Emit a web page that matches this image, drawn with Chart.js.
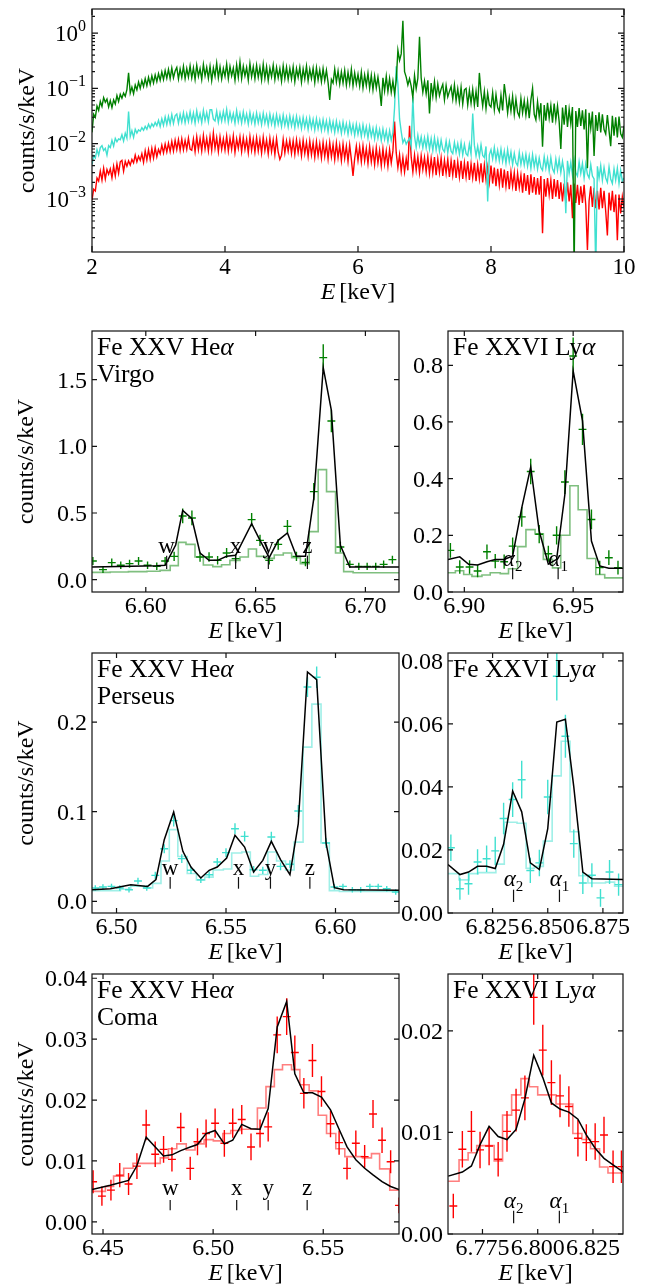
<!DOCTYPE html>
<html>
<head>
<meta charset="utf-8">
<script src="https://cdn.jsdelivr.net/npm/chart.js@4.4.1/dist/chart.umd.min.js"></script>
<style>
  html, body { margin: 0; padding: 0; background: #fff; }
  #fig { position: relative; width: 649px; height: 1286px; overflow: hidden; }
  #fig canvas { position: absolute; left: 0; top: 0; }
</style>
</head>
<body>
<div id="fig"></div>
<script>
const SERIF = '"Liberation Serif", "DejaVu Serif", serif';
const FIG_W = 649, FIG_H = 1286;

// ---- broadband spectra, 2-10 keV, 0.025 keV channels ----
const specStart = 2.0;
const specStep = 0.025;
const virgoSpec = [
  0.016,0.034,0.03,0.048,0.04,0.058,0.047,0.068,0.056,0.064,0.046,0.06,0.045,0.062,0.052,0.074,0.058,0.078,0.066,0.082,
  0.072,0.095,0.19,0.082,0.105,0.08,0.115,0.094,0.13,0.1,0.138,0.108,0.15,0.112,0.158,0.118,0.168,0.125,0.175,0.132,
  0.185,0.14,0.198,0.145,0.21,0.152,0.22,0.15,0.232,0.155,0.205,0.238,0.148,0.225,0.158,0.25,0.15,0.228,0.16,0.255,
  0.155,0.235,0.145,0.262,0.165,0.228,0.145,0.27,0.168,0.24,0.152,0.25,0.138,0.235,0.165,0.285,0.155,0.245,0.148,0.23,
  0.165,0.275,0.15,0.248,0.168,0.232,0.14,0.265,0.158,0.3,0.15,0.25,0.168,0.238,0.142,0.28,0.162,0.245,0.15,0.26,
  0.158,0.24,0.142,0.272,0.152,0.245,0.14,0.232,0.162,0.262,0.145,0.238,0.155,0.228,0.135,0.255,0.15,0.24,0.145,0.23,
  0.148,0.245,0.132,0.228,0.158,0.24,0.13,0.225,0.148,0.252,0.138,0.222,0.15,0.232,0.128,0.235,0.142,0.215,0.132,0.228,
  0.138,0.212,0.128,0.062,0.145,0.125,0.222,0.13,0.205,0.12,0.198,0.125,0.21,0.115,0.195,0.122,0.22,0.112,0.19,0.12,
  0.18,0.11,0.195,0.102,0.175,0.112,0.188,0.1,0.172,0.094,0.168,0.102,0.16,0.096,0.048,0.155,0.09,0.165,0.088,0.15,
  0.085,0.135,0.08,0.14,0.49,0.32,0.42,1.67,0.2,0.16,0.115,0.15,0.11,0.068,0.17,0.098,0.152,0.86,0.155,0.085,
  0.135,0.08,0.14,0.035,0.125,0.072,0.132,0.068,0.12,0.074,0.098,0.118,0.062,0.112,0.07,0.088,0.108,0.064,0.115,0.06,
  0.098,0.056,0.105,0.052,0.094,0.1,0.05,0.092,0.054,0.096,0.05,0.088,0.046,0.19,0.084,0.048,0.088,0.043,0.082,0.05,
  0.046,0.084,0.041,0.077,0.045,0.038,0.075,0.04,0.12,0.07,0.036,0.066,0.039,0.072,0.034,0.064,0.037,0.031,0.066,0.036,
  0.06,0.033,0.058,0.029,0.062,0.1,0.034,0.027,0.057,0.031,0.054,0.0088,0.05,0.026,0.055,0.029,0.049,0.024,0.053,0.027,
  0.048,0.025,0.008,0.045,0.022,0.05,0.02,0.042,0.023,0.046,0.00005,0.039,0.02,0.044,0.021,0.04,0.018,0.042,0.0036,0.036,
  0.019,0.038,0.006,0.033,0.017,0.037,0.016,0.034,0.018,0.015,0.033,0.017,0.009,0.032,0.014,0.03,0.013,0.031,0.015,0.013,
  0.021
];
const perseusSpec = [
  0.0042,0.006,0.0055,0.0078,0.0062,0.0085,0.0092,0.0075,0.0082,0.0062,0.0092,0.0085,0.0115,0.009,0.0125,0.0108,0.0122,0.0118,0.0145,0.0112,
  0.0155,0.0125,0.038,0.0135,0.0172,0.013,0.0182,0.0155,0.0178,0.0168,0.0195,0.0175,0.0205,0.0182,0.0225,0.0192,0.0228,0.0205,0.0242,0.0212,
  0.0265,0.0205,0.0282,0.0215,0.0305,0.0222,0.0312,0.0228,0.0335,0.0232,0.032,0.0345,0.0235,0.034,0.0245,0.0362,0.024,0.0348,0.0252,0.0375,
  0.025,0.0358,0.0235,0.0392,0.0258,0.0348,0.024,0.04,0.0262,0.0365,0.0248,0.0412,0.041,0.0278,0.0258,0.0385,0.0245,0.036,0.0255,0.038,
  0.026,0.0415,0.0245,0.0368,0.0258,0.035,0.0235,0.0395,0.025,0.0355,0.0238,0.0375,0.0248,0.0345,0.0228,0.0365,0.0242,0.0338,0.0225,0.0355,
  0.0238,0.0335,0.0222,0.0355,0.0234,0.0328,0.0215,0.0342,0.0228,0.032,0.021,0.0335,0.0222,0.0312,0.0205,0.0328,0.0215,0.0302,0.0202,0.0318,
  0.021,0.0302,0.0195,0.031,0.0205,0.029,0.0188,0.0298,0.0198,0.0284,0.0182,0.029,0.0192,0.0276,0.0178,0.0282,0.0186,0.0265,0.0174,0.0272,
  0.018,0.0258,0.0165,0.0265,0.0174,0.0248,0.016,0.0254,0.0168,0.0238,0.0155,0.0246,0.0162,0.023,0.0148,0.0235,0.0156,0.022,0.0142,0.0224,
  0.0148,0.0212,0.0136,0.0218,0.0142,0.0202,0.0128,0.0206,0.0134,0.019,0.0122,0.0195,0.0126,0.018,0.0115,0.0184,0.012,0.017,0.0108,0.0172,
  0.0115,0.016,0.045,0.25,0.12,0.028,0.0165,0.0104,0.0122,0.0098,0.0112,0.0125,0.009,0.07,0.0135,0.0086,0.0142,0.0092,0.0132,0.0084,
  0.0128,0.0084,0.0135,0.008,0.0124,0.0075,0.0128,0.0077,0.0118,0.0073,0.0116,0.0079,0.0071,0.0112,0.0069,0.0108,0.0073,0.0066,0.0105,0.007,
  0.01,0.0065,0.0105,0.0063,0.0097,0.0066,0.0061,0.0098,0.0064,0.035,0.0094,0.006,0.009,0.0058,0.0096,0.0061,0.0056,0.0089,0.0009,0.0063,
  0.0078,0.0053,0.0085,0.0051,0.0076,0.0049,0.008,0.0048,0.0073,0.0044,0.0078,0.0047,0.0071,0.0042,0.0067,0.0045,0.004,0.0069,0.0042,0.0063,
  0.0041,0.0064,0.0039,0.006,0.0036,0.0063,0.0038,0.0057,0.0035,0.0055,0.0037,0.0033,0.0058,0.0036,0.0054,0.0032,0.0056,0.0035,0.003,0.0053,
  0.0033,0.0052,0.003,0.0048,0.0031,0.00055,0.0049,0.0029,0.0046,0.0027,0.005,0.003,0.0026,0.0047,0.0029,0.0044,0.0024,0.0043,0.0028,0.0024,
  0.0042,0.0026,0.0023,0.00005,0.0039,0.0024,0.004,0.0022,0.0037,0.0024,0.002,0.0038,0.0023,0.0019,0.0035,0.0022,0.0036,0.0019,0.0033,0.0021,
  0.0024
];
const comaSpec = [
  0.00095,0.0015,0.0014,0.0024,0.0021,0.0032,0.0022,0.0036,0.0023,0.0034,0.0028,0.0035,0.0024,0.0039,0.0026,0.0043,0.0029,0.0047,0.005,0.0032,
  0.0048,0.0039,0.0049,0.0041,0.0052,0.0045,0.0062,0.0047,0.0059,0.005,0.0066,0.0046,0.0074,0.0051,0.0078,0.0052,0.0082,0.0055,0.0085,0.0058,
  0.0079,0.0066,0.0094,0.0068,0.0098,0.0071,0.0102,0.0072,0.011,0.0074,0.0115,0.0078,0.0118,0.0076,0.0122,0.0078,0.0115,0.0079,0.0126,0.008,
  0.0076,0.0121,0.0072,0.0133,0.0078,0.0124,0.0074,0.014,0.008,0.0125,0.0074,0.0134,0.0076,0.0155,0.0082,0.0128,0.0072,0.0132,0.0079,0.0122,
  0.0077,0.0136,0.0074,0.0125,0.0079,0.0138,0.007,0.0122,0.0082,0.0132,0.0072,0.0128,0.0078,0.012,0.0069,0.0134,0.0076,0.0122,0.0071,0.0128,
  0.0074,0.012,0.0068,0.013,0.0075,0.0116,0.0066,0.0125,0.0072,0.0117,0.0064,0.0123,0.007,0.0052,0.0062,0.0119,0.0068,0.0112,0.0073,0.0114,
  0.0067,0.0113,0.0064,0.0117,0.0069,0.0109,0.0061,0.0115,0.0066,0.0106,0.0059,0.0111,0.0063,0.0104,0.0057,0.0108,0.0061,0.01,0.0055,0.0105,
  0.0059,0.0099,0.0053,0.0104,0.0058,0.0096,0.0052,0.0102,0.0056,0.0093,0.005,0.0098,0.0054,0.009,0.0048,0.0095,0.0052,0.0026,0.0054,0.009,
  0.005,0.0088,0.0047,0.0091,0.0049,0.0082,0.0044,0.0088,0.0047,0.0078,0.0042,0.0084,0.0045,0.0076,0.004,0.0081,0.0043,0.0074,0.0039,0.0078,
  0.0045,0.0074,0.025,0.0068,0.0037,0.0063,0.0032,0.0057,0.0031,0.0054,0.0033,0.021,0.0057,0.0031,0.0062,0.0033,0.0058,0.003,0.006,0.0034,
  0.0056,0.0031,0.0058,0.0029,0.0054,0.003,0.0057,0.0027,0.0053,0.003,0.0055,0.0026,0.005,0.0029,0.0052,0.0025,0.0049,0.0027,0.0051,0.0024,
  0.0047,0.0025,0.0049,0.0023,0.0045,0.0025,0.0048,0.0022,0.0043,0.0024,0.0045,0.0021,0.0042,0.0023,0.0044,0.002,0.0041,0.0022,0.0038,0.002,
  0.004,0.0019,0.0037,0.0017,0.0035,0.0018,0.0036,0.0016,0.0034,0.0017,0.0032,0.0015,0.0031,0.0017,0.003,0.0014,0.0029,0.0016,0.0027,0.0013,
  0.0029,0.0014,0.0027,0.0012,0.0028,0.0013,0.0025,0.0012,0.0024,0.0012,0.0026,0.00024,0.0023,0.0011,0.0024,0.0012,0.0022,0.001,0.0023,0.0011,
  0.0022,0.001,0.002,0.0009,0.0019,0.00085,0.002,0.0009,0.0018,0.00045,0.0019,0.00085,0.0018,0.00078,0.0017,0.00085,0.0018,0.00078,0.00012,0.00092,
  0.0017,0.00072,0.0016,0.00068,0.0014,0.00065,0.0016,0.00068,0.0014,0.0006,0.00022,0.0013,0.00062,0.0014,0.00058,0.0012,0.00018,0.0012,0.00055,0.0011,
  0.0007
];
const specXTicks = [2, 4, 6, 8, 10];
const specXLabels = ['2', '4', '6', '8', '10'];
const specYTicks = [1, 0.1, 0.01, 0.001];
const specYExp = ['0', '\u22121', '\u22122', '\u22123'];

// ---- Virgo, Fe XXV He-alpha ----
const virgoHeE = [6.5759,6.5805,6.5845,6.5886,6.5926,6.5967,6.6008,6.6050,6.6088,6.6129,6.6168,6.6210,6.6247,6.6288,6.6327,6.6368,6.6409,6.6482,6.6520,6.6562,6.6603,6.6645,6.6686,6.6727,6.6765,6.6808,6.6845,6.6886,6.6929,6.6970,6.7008,6.7047,6.7083,6.7123];
const virgoHeC = [0.14,0.075,0.128,0.108,0.12,0.14,0.108,0.10,0.14,0.175,0.478,0.463,0.17,0.17,0.145,0.2,0.158,0.45,0.295,0.145,0.265,0.40,0.175,0.13,0.66,1.665,1.19,0.245,0.115,0.10,0.10,0.10,0.115,0.15];
const virgoHeErr = [0.03,0.025,0.03,0.028,0.03,0.03,0.028,0.028,0.03,0.035,0.055,0.055,0.035,0.035,0.032,0.038,0.034,0.05,0.042,0.032,0.04,0.048,0.035,0.03,0.065,0.1,0.085,0.04,0.028,0.027,0.027,0.027,0.028,0.03];
const virgoHeModelE = [6.5755,6.6050,6.6088,6.6136,6.6168,6.6210,6.6247,6.6288,6.6327,6.6368,6.6409,6.6482,6.6520,6.6562,6.6603,6.6645,6.6686,6.6727,6.6765,6.6808,6.6845,6.6886,6.6929,6.7153];
const virgoHeModelC = [0.095,0.105,0.108,0.26,0.52,0.457,0.2,0.145,0.145,0.175,0.183,0.42,0.295,0.165,0.295,0.35,0.175,0.175,0.61,1.59,1.27,0.258,0.095,0.095];
const virgoHeBinE = [6.5755,6.5838,6.5921,6.6005,6.6065,6.6111,6.6148,6.6183,6.6224,6.6262,6.6305,6.6345,6.6383,6.6429,6.6467,6.6504,6.6542,6.6585,6.6626,6.6664,6.6704,6.6744,6.6785,6.6823,6.6864,6.6901,6.6944,6.7153];
const virgoHeBinC = [0.055,0.057,0.06,0.063,0.07,0.105,0.28,0.265,0.17,0.11,0.098,0.112,0.145,0.17,0.23,0.175,0.16,0.185,0.2,0.165,0.12,0.36,0.825,0.66,0.2,0.06,0.052];
const virgoHeLineE = [6.6095, 6.6409, 6.6558, 6.6736];

// ---- Virgo, Fe XXVI Ly-alpha ----
const virgoLyE = [6.8936,6.8979,6.9024,6.9061,6.9104,6.9142,6.9183,6.9222,6.9264,6.9305,6.9344,6.9386,6.9424,6.9462,6.9500,6.9543,6.9584,6.9622,6.9664,6.9706];
const virgoLyC = [0.147,0.088,0.088,0.074,0.142,0.109,0.107,0.162,0.265,0.425,0.204,0.135,0.2,0.388,0.833,0.574,0.256,0.086,0.121,0.086];
const virgoLyErr = [0.026,0.024,0.024,0.022,0.026,0.025,0.025,0.03,0.035,0.045,0.032,0.028,0.032,0.042,0.065,0.055,0.035,0.024,0.026,0.024];
const virgoLyModelE = [6.8925,6.8979,6.9020,6.9061,6.9104,6.9142,6.9183,6.9222,6.9264,6.9305,6.9344,6.9386,6.9424,6.9462,6.9500,6.9543,6.9584,6.9622,6.9664,6.9729];
const virgoLyModelC = [0.115,0.124,0.098,0.095,0.107,0.115,0.115,0.127,0.298,0.441,0.215,0.098,0.115,0.345,0.78,0.604,0.18,0.092,0.084,0.084];
const virgoLyBinE = [6.8925,6.8959,6.8997,6.9035,6.9081,6.9119,6.9165,6.9203,6.9245,6.9283,6.9325,6.9363,6.9405,6.9443,6.9485,6.9523,6.9564,6.9604,6.9645,6.9729];
const virgoLyBinC = [0.068,0.075,0.062,0.055,0.06,0.068,0.065,0.082,0.16,0.22,0.205,0.115,0.085,0.2,0.375,0.29,0.118,0.062,0.05];
const virgoLyLineE = [6.9222, 6.9431];

// ---- Perseus, Fe XXV He-alpha ----
const perseusHeE = [6.4903,6.4938,6.4977,6.5015,6.5057,6.5098,6.5138,6.5177,6.5218,6.5261,6.5298,6.5340,6.5385,6.5423,6.5460,6.5500,6.5541,6.5585,6.5626,6.5668,6.5707,6.5749,6.5792,6.5830,6.5872,6.5914,6.5957,6.5995,6.6034,6.6077,6.6115,6.6157,6.6195,6.6234,6.6275];
const perseusHeC = [0.0149,0.016,0.0167,0.0149,0.013,0.0227,0.0149,0.029,0.0587,0.09,0.0476,0.0346,0.024,0.0297,0.0439,0.0543,0.081,0.0725,0.0353,0.0346,0.0717,0.039,0.0413,0.1007,0.239,0.25,0.065,0.016,0.0167,0.013,0.013,0.0167,0.0167,0.0141,0.0104];
const perseusHeErr = [0.003,0.003,0.003,0.003,0.003,0.0035,0.003,0.004,0.005,0.0065,0.0048,0.004,0.0035,0.004,0.0045,0.005,0.006,0.0058,0.004,0.004,0.0058,0.0042,0.0045,0.0068,0.011,0.012,0.0055,0.003,0.003,0.003,0.003,0.003,0.003,0.003,0.003];
const perseusHeModelE = [6.4888,6.4972,6.5065,6.5142,6.5180,6.5218,6.5261,6.5303,6.5340,6.5385,6.5423,6.5460,6.5503,6.5541,6.5585,6.5626,6.5668,6.5707,6.5749,6.5792,6.5830,6.5872,6.5914,6.5957,6.5995,6.6037,6.6307];
const perseusHeModelC = [0.013,0.0141,0.0186,0.0167,0.0242,0.0688,0.0996,0.0558,0.0383,0.026,0.0346,0.0383,0.0483,0.0736,0.0606,0.0327,0.0457,0.0669,0.0465,0.0297,0.0866,0.2558,0.2472,0.065,0.0152,0.013,0.0123];
const perseusHeBinE = [6.4888,6.5018,6.5065,6.5126,6.5165,6.5203,6.5241,6.5280,6.5323,6.5365,6.5403,6.5441,6.5488,6.5526,6.5572,6.5611,6.5649,6.5691,6.5731,6.5772,6.5811,6.5852,6.5892,6.5934,6.5972,6.6018,6.6307];
const perseusHeBinC = [0.012,0.0135,0.017,0.015,0.02,0.045,0.08,0.05,0.031,0.024,0.027,0.035,0.036,0.054,0.055,0.028,0.03,0.055,0.045,0.035,0.066,0.172,0.22,0.065,0.012,0.011];
const perseusHeLineE = [6.5245, 6.5557, 6.5703, 6.5883];

// ---- Perseus, Fe XXVI Ly-alpha ----
const perseusLyE = [6.8061,6.8102,6.8141,6.8182,6.8223,6.8262,6.8300,6.8341,6.8382,6.8421,6.8462,6.8500,6.8541,6.8580,6.8618,6.8659,6.8700,6.8739,6.8780,6.8821];
const perseusLyC = [0.0207,0.0077,0.0093,0.0162,0.0172,0.0197,0.03,0.036,0.0423,0.0135,0.0159,0.0368,0.0751,0.0561,0.022,0.0095,0.012,0.0048,0.013,0.009];
const perseusLyErr = [0.0042,0.0035,0.0035,0.004,0.0042,0.0045,0.005,0.0055,0.006,0.004,0.0042,0.0055,0.0077,0.0068,0.0045,0.0035,0.0038,0.0028,0.0038,0.0035];
const perseusLyModelE = [6.8048,6.8102,6.8141,6.8182,6.8223,6.8262,6.8300,6.8341,6.8382,6.8421,6.8462,6.8500,6.8541,6.8580,6.8618,6.8659,6.8700,6.8848];
const perseusLyModelC = [0.0154,0.0122,0.013,0.0148,0.0148,0.0141,0.0218,0.0387,0.0321,0.0159,0.0138,0.0268,0.0606,0.0615,0.04,0.013,0.0109,0.0106];
const perseusLyBinE = [6.8048,6.8098,6.8144,6.8185,6.8265,6.8303,6.8361,6.8402,6.8439,6.8480,6.8520,6.8561,6.8601,6.8641,6.8682,6.8762,6.8803,6.8848];
const perseusLyBinC = [0.0125,0.0105,0.0125,0.0128,0.0155,0.0288,0.0285,0.0142,0.0148,0.0228,0.0435,0.0545,0.0258,0.0118,0.0095,0.0098,0.0085];
const perseusLyLineE = [6.8345, 6.8553];

// ---- Coma, Fe XXV He-alpha ----
const comaHeE = [6.4455,6.4495,6.4536,6.4576,6.4616,6.4654,6.4696,6.4737,6.4775,6.4813,6.4853,6.4896,6.4929,6.4968,6.5009,6.5051,6.5089,6.5130,6.5172,6.5213,6.5250,6.5291,6.5334,6.5371,6.5412,6.5451,6.5492,6.5533,6.5572,6.5608,6.5648,6.5688,6.5726,6.5767,6.5806,6.5844];
const comaHeC = [0.00658,0.00422,0.0052,0.00767,0.0062,0.00915,0.0159,0.0111,0.0119,0.01025,0.0155,0.00877,0.01315,0.0145,0.0162,0.0129,0.0162,0.0168,0.0123,0.0145,0.0156,0.0307,0.0337,0.0278,0.0211,0.0265,0.0214,0.0161,0.013,0.00877,0.0129,0.0107,0.0177,0.0134,0.00986,0.0027];
const comaHeErr = [0.0019,0.0016,0.0017,0.002,0.0018,0.0021,0.0025,0.0021,0.0022,0.002,0.0024,0.0019,0.0022,0.0023,0.0024,0.0022,0.0024,0.0024,0.0022,0.0023,0.0024,0.003,0.003,0.0028,0.0025,0.0027,0.0025,0.0022,0.002,0.0018,0.0021,0.0019,0.0023,0.0021,0.0019,0.0013];
const comaHeModelE = [6.4450,6.4533,6.4616,6.4654,6.4696,6.4775,6.4813,6.4853,6.4896,6.4929,6.4968,6.5009,6.5051,6.5089,6.5130,6.5172,6.5213,6.5250,6.5291,6.5334,6.5371,6.5412,6.5451,6.5492,6.5533,6.5572,6.5608,6.5648,6.5688,6.5726,6.5767,6.5806,6.5844];
const comaHeModelC = [0.0053,0.006,0.0068,0.0092,0.0139,0.0108,0.011,0.0117,0.0123,0.0127,0.0145,0.015,0.0128,0.0134,0.016,0.0153,0.0152,0.0186,0.032,0.0362,0.0243,0.0212,0.0212,0.0205,0.0184,0.0152,0.0123,0.0102,0.0088,0.0077,0.0066,0.0058,0.0053];
const comaHeBinE = [6.4450,6.4511,6.4548,6.4594,6.4636,6.4760,6.4797,6.4835,6.4878,6.4918,6.4959,6.5001,6.5044,6.5080,6.5122,6.5201,6.5240,6.5278,6.5315,6.5356,6.5394,6.5436,6.5477,6.5515,6.5557,6.5598,6.5678,6.5719,6.5756,6.5802,6.5844];
const comaHeBinC = [0.005,0.0058,0.0075,0.0088,0.0096,0.0105,0.012,0.0128,0.0118,0.0128,0.0135,0.0133,0.0145,0.015,0.0152,0.0187,0.0222,0.025,0.0258,0.025,0.0225,0.0215,0.0175,0.0145,0.012,0.0107,0.0105,0.0112,0.0087,0.0052];
const comaHeLineE = [6.4805, 6.5107, 6.5250, 6.5427];

// ---- Coma, Fe XXVI Ly-alpha ----
const comaLyE = [6.7618,6.7659,6.7700,6.7739,6.7780,6.7821,6.7861,6.7902,6.7942,6.7982,6.8023,6.8062,6.8101,6.8141,6.8182,6.8220,6.8260,6.8300,6.8341,6.8379];
const comaLyC = [0.00276,0.00834,0.0101,0.00828,0.00867,0.00736,0.0101,0.0122,0.0134,0.0233,0.0181,0.0149,0.0136,0.01255,0.00943,0.009,0.0091,0.00975,0.00663,0.00663];
const comaLyErr = [0.0012,0.0018,0.002,0.0018,0.0019,0.0017,0.002,0.0021,0.0022,0.0027,0.0025,0.0022,0.0021,0.002,0.0018,0.0018,0.0018,0.0018,0.0016,0.0016];
const comaLyModelE = [6.7595,6.7659,6.7700,6.7739,6.7780,6.7821,6.7861,6.7902,6.7942,6.7982,6.8023,6.8062,6.8101,6.8141,6.8182,6.8220,6.8260,6.8300,6.8341,6.8394];
const comaLyModelC = [0.0057,0.0061,0.0067,0.0088,0.0106,0.0096,0.0093,0.0103,0.0133,0.0176,0.0154,0.0129,0.0123,0.012,0.0113,0.00975,0.00844,0.00745,0.0068,0.006];
const comaLyBinE = [6.7595,6.7644,6.7685,6.7724,6.7803,6.7841,6.7882,6.7924,6.7962,6.8000,6.8083,6.8159,6.8200,6.8239,6.8280,6.8318,6.8394];
const comaLyBinC = [0.0052,0.0073,0.008,0.0087,0.0072,0.0117,0.0137,0.0153,0.0145,0.0137,0.0128,0.0099,0.0093,0.0084,0.0066,0.006];
const comaLyLineE = [6.7891, 6.8098];

const heLineNames = ['w', 'x', 'y', 'z'];
const lyLineSubs = ['2', '1'];

// colours
const GREEN = '#008000', TURQ = '#40e0d0', RED = '#ff0000';
const GREEN_LT = 'rgba(0,128,0,0.5)', TURQ_LT = 'rgba(64,224,208,0.5)', RED_LT = 'rgba(255,0,0,0.5)';

// ---------- helpers ----------
function pts(xs, ys) { return xs.map((x, i) => ({ x: x, y: ys[i] })); }

// bin edges -> points for a 'before' stepped line (last edge closes the last bin)
function binPts(edges, vals) {
  return edges.map((e, i) => ({ x: e, y: vals[Math.min(i, vals.length - 1)] }));
}

// error crosses as broken line segments (null breaks the path)
function crossPts(es, cs, errs, halfBin) {
  const out = [];
  es.forEach((e, i) => {
    const c = cs[i], d = errs[i];
    out.push({ x: e - halfBin, y: c }, { x: e + halfBin, y: c }, { x: e, y: null },
             { x: e, y: c - d }, { x: e, y: c + d }, { x: e, y: null });
  });
  return out;
}

function fontOf(p) { return (p.it ? 'italic ' : '') + p.size + 'px ' + SERIF; }

function drawRich(ctx, parts, x, y, align) {
  let total = 0;
  parts.forEach(p => { ctx.font = fontOf(p); p.w = ctx.measureText(p.t).width + (p.gap || 0); total += p.w; });
  let cx = align === 'center' ? x - total / 2 : (align === 'right' ? x - total : x);
  ctx.textAlign = 'left';
  ctx.textBaseline = 'alphabetic';
  parts.forEach(p => {
    ctx.font = fontOf(p);
    ctx.fillText(p.t, cx + (p.gap || 0), y + (p.dy || 0));
    cx += p.w;
  });
}

// frame, inward ticks, tick labels, axis titles and annotations
function decorPlugin(cfg) {
  return {
    id: 'decor',
    afterDatasetsDraw(chart) {
      const ctx = chart.ctx, a = chart.chartArea;
      const sx = chart.scales.x, sy = chart.scales.y;
      ctx.save();
      ctx.fillStyle = '#000';
      ctx.strokeStyle = '#111';

      // line identifications
      if (cfg.marks) {
        const m = cfg.marks;
        ctx.lineWidth = 1.2;
        m.energies.forEach((e, i) => {
          const px = sx.getPixelForValue(e);
          ctx.beginPath();
          ctx.moveTo(px, sy.getPixelForValue(m.tickTop));
          ctx.lineTo(px, sy.getPixelForValue(m.tickBottom));
          ctx.stroke();
          const parts = m.greek
            ? [{ t: '\u03b1', it: true, size: 23 }, { t: m.names[i], size: 15, dy: 5 }]
            : [{ t: m.names[i], size: 23 }];
          drawRich(ctx, parts, px, sy.getPixelForValue(m.textY), 'center');
        });
      }

      // frame
      ctx.lineWidth = 1.2;
      ctx.strokeRect(a.left, a.top, a.right - a.left, a.bottom - a.top);

      // ticks
      const maj = cfg.majorLen, mnr = 3;
      ctx.beginPath();
      cfg.xTicks.forEach(v => {
        const px = sx.getPixelForValue(v);
        ctx.moveTo(px, a.bottom); ctx.lineTo(px, a.bottom - maj);
        ctx.moveTo(px, a.top); ctx.lineTo(px, a.top + maj);
      });
      cfg.yTicks.forEach(v => {
        const py = sy.getPixelForValue(v);
        ctx.moveTo(a.left, py); ctx.lineTo(a.left + maj, py);
        ctx.moveTo(a.right, py); ctx.lineTo(a.right - maj, py);
      });
      (cfg.yMinor || []).forEach(v => {
        const py = sy.getPixelForValue(v);
        if (py < a.top || py > a.bottom) return;
        ctx.moveTo(a.left, py); ctx.lineTo(a.left + mnr, py);
        ctx.moveTo(a.right, py); ctx.lineTo(a.right - mnr, py);
      });
      ctx.stroke();

      // tick labels
      const fs = cfg.tickSize;
      ctx.font = fs + 'px ' + SERIF;
      ctx.textAlign = 'center';
      ctx.textBaseline = 'alphabetic';
      cfg.xTicks.forEach((v, i) => {
        ctx.fillText(cfg.xLabels[i], sx.getPixelForValue(v), a.bottom + cfg.xLabelGap);
      });
      cfg.yTicks.forEach((v, i) => {
        const py = sy.getPixelForValue(v) + fs * 0.33;
        if (cfg.yExp) {
          drawRich(ctx, [{ t: '10', size: fs }, { t: cfg.yExp[i], size: Math.round(fs * 0.7), dy: -fs * 0.42 }],
                   a.left - 6, py, 'right');
        } else {
          ctx.font = fs + 'px ' + SERIF;
          ctx.textAlign = 'right';
          ctx.fillText(cfg.yLabels[i], a.left - 5, py);
        }
      });

      // axis titles
      drawRich(ctx, [{ t: 'E', it: true, size: cfg.titleSize }, { t: '[keV]', size: cfg.titleSize, gap: 4 }],
               (a.left + a.right) / 2, a.bottom + cfg.xTitleGap, 'center');
      if (cfg.yTitleX) {
        ctx.save();
        ctx.translate(cfg.yTitleX, (a.top + a.bottom) / 2);
        ctx.rotate(-Math.PI / 2);
        ctx.font = cfg.titleSize + 'px ' + SERIF;
        ctx.textAlign = 'center';
        ctx.textBaseline = 'middle';
        ctx.fillText('counts/s/keV', 0, 0);
        ctx.restore();
      }

      // panel captions
      (cfg.caption || []).forEach((parts, i) => {
        drawRich(ctx, parts, a.left + 5, a.top + 24 + i * 27, 'left');
      });
      ctx.restore();
    }
  };
}

function makeChart(box, xRange, yRange, yLog, datasets, cfg) {
  const canvas = document.createElement('canvas');
  canvas.width = FIG_W;
  canvas.height = FIG_H;
  canvas.style.width = FIG_W + 'px';
  canvas.style.height = FIG_H + 'px';
  document.getElementById('fig').appendChild(canvas);
  return new Chart(canvas, {
    type: 'line',
    data: { datasets: datasets },
    options: {
      responsive: false,
      animation: false,
      devicePixelRatio: 1,
      events: [],
      layout: {
        autoPadding: false,
        padding: { left: box[0], top: box[1], right: FIG_W - box[2], bottom: FIG_H - box[3] }
      },
      plugins: { legend: { display: false }, tooltip: { enabled: false } },
      elements: { point: { radius: 0 }, line: { tension: 0 } },
      scales: {
        x: { type: 'linear', min: xRange[0], max: xRange[1], display: false },
        y: { type: yLog ? 'logarithmic' : 'linear', min: yRange[0], max: yRange[1], display: false }
      }
    },
    plugins: [decorPlugin(cfg)]
  });
}

function zoomPanel(box, xRange, yRange, d, colors, cfg) {
  const datasets = [
    { data: pts(d.modelE, d.modelC), borderColor: '#000', borderWidth: 1.5 },
    { data: crossPts(d.e, d.c, d.err, 0.0018), borderColor: colors[0], borderWidth: 1.4, spanGaps: false },
    { data: binPts(d.binE, d.binC), borderColor: colors[1], borderWidth: 1.6, stepped: 'before' }
  ];
  makeChart(box, xRange, yRange, false, datasets, Object.assign({
    majorLen: 5, tickSize: 24, titleSize: 24, xLabelGap: 21, xTitleGap: 46, yTitleX: 27
  }, cfg));
}

function heCaption(name) {
  return [[{ t: 'Fe XXV He', size: 25.5 }, { t: '\u03b1', it: true, size: 25.5 }], [{ t: name, size: 25.5 }]];
}
const lyCaption = [[{ t: 'Fe XXVI Ly', size: 25.5 }, { t: '\u03b1', it: true, size: 25.5 }]];

function buildFigure() {
  // broadband panel
  const specE = virgoSpec.map((_, i) => specStart + i * specStep);
  const minor = [];
  for (let k = -4; k <= 0; k++) for (let m = 2; m <= 9; m++) minor.push(m * Math.pow(10, k));
  makeChart([92, 9, 624, 252], [2, 10], [1.1e-4, 2.72], true, [
    { data: pts(specE, virgoSpec), borderColor: GREEN, borderWidth: 1.4 },
    { data: pts(specE, perseusSpec), borderColor: TURQ, borderWidth: 1.4 },
    { data: pts(specE, comaSpec), borderColor: RED, borderWidth: 1.4 }
  ], {
    majorLen: 6, tickSize: 23, titleSize: 24, xLabelGap: 22, xTitleGap: 47, yTitleX: 28,
    xTicks: specXTicks, xLabels: specXLabels, yTicks: specYTicks, yExp: specYExp, yMinor: minor
  });

  // Virgo
  zoomPanel([92, 331, 399, 592], [6.5755, 6.7153], [-0.0925, 1.865], {
    e: virgoHeE, c: virgoHeC, err: virgoHeErr, modelE: virgoHeModelE, modelC: virgoHeModelC,
    binE: virgoHeBinE, binC: virgoHeBinC
  }, [GREEN, GREEN_LT], {
    xTicks: [6.60, 6.65, 6.70], xLabels: ['6.60', '6.65', '6.70'],
    yTicks: [0, 0.5, 1.0, 1.5], yLabels: ['0.0', '0.5', '1.0', '1.5'],
    caption: heCaption('Virgo'),
    marks: { energies: virgoHeLineE, names: heLineNames, textY: 0.2, tickTop: 0.18, tickBottom: 0.08 }
  });
  zoomPanel([448, 331, 623, 592], [6.8925, 6.9729], [0, 0.921], {
    e: virgoLyE, c: virgoLyC, err: virgoLyErr, modelE: virgoLyModelE, modelC: virgoLyModelC,
    binE: virgoLyBinE, binC: virgoLyBinC
  }, [GREEN, GREEN_LT], {
    xTicks: [6.90, 6.95], xLabels: ['6.90', '6.95'],
    yTicks: [0, 0.2, 0.4, 0.6, 0.8], yLabels: ['0.0', '0.2', '0.4', '0.6', '0.8'],
    yTitleX: 0, caption: lyCaption,
    marks: { energies: virgoLyLineE, names: lyLineSubs, greek: true, textY: 0.092, tickTop: 0.086, tickBottom: 0.045 }
  });

  // Perseus
  zoomPanel([92, 653, 399, 913], [6.4888, 6.6290], [-0.013, 0.277], {
    e: perseusHeE, c: perseusHeC, err: perseusHeErr, modelE: perseusHeModelE, modelC: perseusHeModelC,
    binE: perseusHeBinE, binC: perseusHeBinC
  }, [TURQ, TURQ_LT], {
    xTicks: [6.50, 6.55, 6.60], xLabels: ['6.50', '6.55', '6.60'],
    yTicks: [0, 0.1, 0.2], yLabels: ['0.0', '0.1', '0.2'],
    caption: heCaption('Perseus'),
    marks: { energies: perseusHeLineE, names: heLineNames, textY: 0.029, tickTop: 0.0271, tickBottom: 0.0141 }
  });
  zoomPanel([448, 653, 623, 913], [6.8048, 6.8841], [0, 0.0825], {
    e: perseusLyE, c: perseusLyC, err: perseusLyErr, modelE: perseusLyModelE, modelC: perseusLyModelC,
    binE: perseusLyBinE, binC: perseusLyBinC
  }, [TURQ, TURQ_LT], {
    xTicks: [6.825, 6.85, 6.875], xLabels: ['6.825', '6.850', '6.875'],
    yTicks: [0, 0.02, 0.04, 0.06, 0.08], yLabels: ['0.00', '0.02', '0.04', '0.06', '0.08'],
    yTitleX: 0, caption: lyCaption,
    marks: { energies: perseusLyLineE, names: lyLineSubs, greek: true, textY: 0.0085, tickTop: 0.0074, tickBottom: 0.0035 }
  });

  // Coma
  zoomPanel([92, 974, 399, 1234], [6.4450, 6.5844], [-0.002, 0.0407], {
    e: comaHeE, c: comaHeC, err: comaHeErr, modelE: comaHeModelE, modelC: comaHeModelC,
    binE: comaHeBinE, binC: comaHeBinC
  }, [RED, RED_LT], {
    xTicks: [6.45, 6.50, 6.55], xLabels: ['6.45', '6.50', '6.55'],
    yTicks: [0, 0.01, 0.02, 0.03, 0.04], yLabels: ['0.00', '0.01', '0.02', '0.03', '0.04'],
    caption: heCaption('Coma'),
    marks: { energies: comaHeLineE, names: heLineNames, textY: 0.0044, tickTop: 0.0036, tickBottom: 0.0019 }
  });
  zoomPanel([448, 974, 623, 1234], [6.7594, 6.8386], [0, 0.0256], {
    e: comaLyE, c: comaLyC, err: comaLyErr, modelE: comaLyModelE, modelC: comaLyModelC,
    binE: comaLyBinE, binC: comaLyBinC
  }, [RED, RED_LT], {
    xTicks: [6.775, 6.80, 6.825], xLabels: ['6.775', '6.800', '6.825'],
    yTicks: [0, 0.01, 0.02], yLabels: ['0.00', '0.01', '0.02'],
    yTitleX: 0, caption: lyCaption,
    marks: { energies: comaLyLineE, names: lyLineSubs, greek: true, textY: 0.00253, tickTop: 0.0023, tickBottom: 0.00105 }
  });
}

Promise.all([
  document.fonts.load('24px "Liberation Serif"'),
  document.fonts.load('italic 24px "Liberation Serif"')
]).catch(() => {}).then(buildFigure);
</script>
</body>
</html>
